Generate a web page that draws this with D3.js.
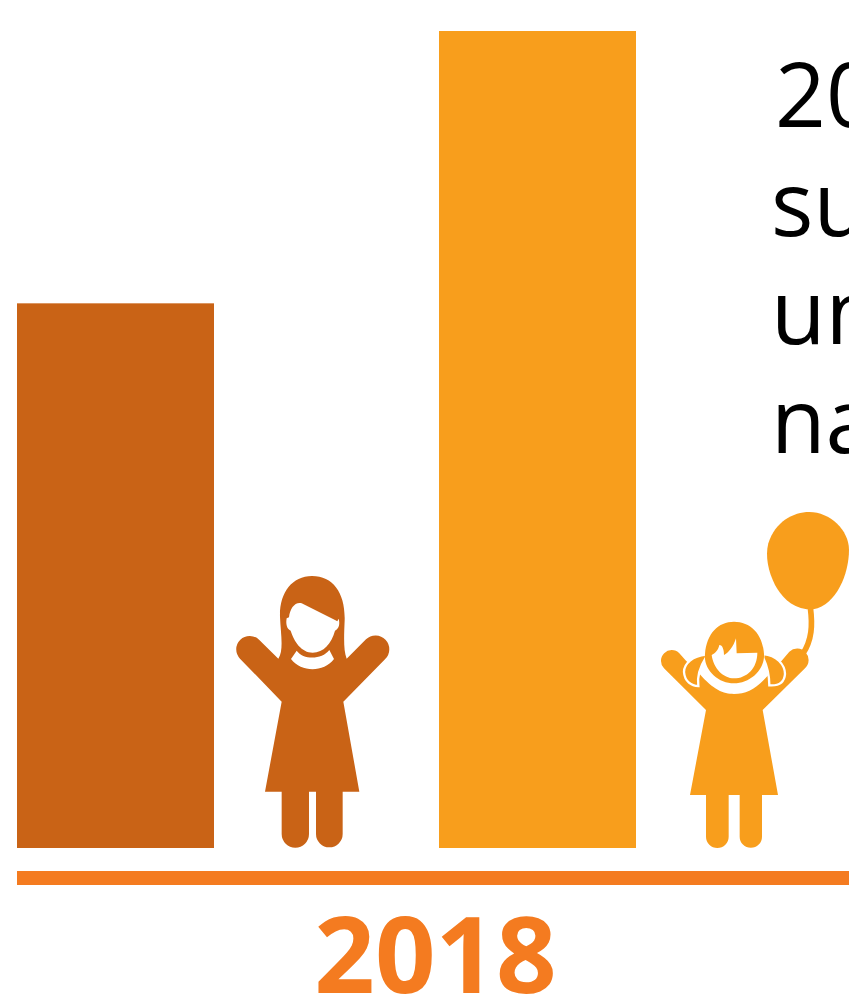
<!DOCTYPE html>
<html>
<head>
<meta charset="utf-8">
<script src="https://cdn.jsdelivr.net/npm/d3@7"></script>
<style>
  html, body { margin: 0; padding: 0; background: #fff; overflow: hidden; }
  svg { display: block; }
  text { font-family: "Open Sans", "Noto Sans", sans-serif; }
</style>
</head>
<body>
<script>
// Two paired bars for one year, each followed by a child pictogram.
const categories = ["Girls, older", "Girls, younger"];
const seriesValues = [20, 30];
const barColors = ["#C96316", "#F89E1C"];
const yearLabel = "2018";
const noteLines = ["20", "su", "un", "na"];

const W = 849, H = 995;
const svg = d3.select("body").append("svg").attr("width", W).attr("height", H);

const x = d3.scaleBand().domain(categories).range([17, 636]).paddingInner(225 / 422);
const y = d3.scaleLinear().domain([0, 30]).range([848, 31]);

svg.selectAll("rect.bar")
  .data(categories)
  .join("rect")
  .attr("class", "bar")
  .attr("x", d => x(d))
  .attr("y", (d, i) => y(seriesValues[i]))
  .attr("width", x.bandwidth())
  .attr("height", (d, i) => y(0) - y(seriesValues[i]))
  .attr("fill", (d, i) => barColors[i]);

// Baseline rule and year label
svg.append("rect").attr("x", 17).attr("y", 871).attr("width", W - 17).attr("height", 14).attr("fill", "#F47B20");
svg.append("text")
  .attr("x", 435.5).attr("y", 992.5)
  .attr("text-anchor", "middle")
  .attr("font-size", 106).attr("font-weight", 700)
  .attr("fill", "#F47B20")
  .text(yearLabel);

// Running note, cut off by the right edge of the page
svg.append("g").selectAll("text")
  .data(noteLines)
  .join("text")
  .attr("x", (d, i) => i === 0 ? 775 : 771)
  .attr("y", (d, i) => 127 + i * 108.7)
  .attr("font-size", 89)
  .attr("fill", "#000")
  .text(d => d);

// Pictograms share a local grid of three units per pixel, origin at the feet centre
const icon = (i, cx, cy) => svg.append("g")
  .attr("transform", `translate(${x(categories[i]) + 295},${y(0)}) scale(${1 / 3}) translate(${-cx},${-cy})`);

const older = icon(0, 276, 864);
older.append("path").attr("fill", barColors[0]).attr("d",
  "M175,296 L118,240 A40,40 0 0 0 60,296 L185,425 L135,695 L185,695 L185,822 A41,41 0 0 0 267,822 " +
  "L267,695 L288,695 L288,822 A40,40 0 0 0 368,822 L368,695 L418,695 L370,425 L495,298 A40,40 0 0 0 438,238 L380,296 " +
  "C370,270 372,230 374,180 C376,100 340,48 276,48 C215,48 178,100 180,170 C182,220 192,270 175,296 Z");
older.append("path").attr("fill", "#fff").attr("d",
  "M245,130 L345,180 L352,184 L356,176 C360,190 358,205 345,212 C335,250 310,278 278,278 " +
  "C245,278 222,245 212,212 C200,208 197,190 200,175 L207,172 C210,145 225,125 245,130 Z");
older.append("path").attr("fill", "#fff").attr("d",
  "M213,297 L230,272 C250,300 305,300 328,270 L342,297 C310,338 245,338 213,297 Z");

const younger = icon(1, 252, 1044);
younger.append("path").attr("fill", barColors[1]).attr("d",
  "M108,482 L88,460 A31,31 0 0 0 42,505 L168,630 L120,885 L168,885 L168,1010 A34,34 0 0 0 236,1010 " +
  "L236,885 L269,885 L269,1010 A33.5,33.5 0 0 0 336,1010 L336,885 L384,885 L338,630 L465,505 A31,31 0 0 0 418,455 L395,482 " +
  "L355,525 C320,565 290,582 252,582 C220,582 190,570 147,520 Z");
// Pigtails sit over the arms with a white keyline
younger.append("path").attr("fill", barColors[1]).attr("stroke", "#fff").attr("stroke-width", 7).attr("d",
  "M168,464 C128,468 102,490 102,516 C104,545 125,558 145,558 C141,530 150,500 168,472 Z");
younger.append("path").attr("fill", barColors[1]).attr("stroke", "#fff").attr("stroke-width", 7).attr("d",
  "M340,462 C380,465 405,495 405,522 C403,548 385,558 358,556 C358,525 352,500 340,474 Z");
younger.append("path").attr("fill", barColors[1]).attr("d",
  "M165,462 C170,400 205,365 252,365 C300,365 338,400 342,462 C345,510 300,550 252,550 C205,550 160,510 165,462 Z");
younger.append("path").attr("fill", "#fff").attr("d",
  "M185,465 C190,505 220,535 252,535 C290,535 322,505 322,458 L260,460 L258,415 C250,440 235,460 222,465 " +
  "C222,450 218,435 208,435 C205,450 195,460 185,465 Z");
// Balloon and its string
younger.append("path").attr("fill", barColors[1]).attr("d",
  "M470,328 C420,320 395,290 375,255 C355,215 345,170 355,130 C375,65 430,36 478,36 " +
  "C540,36 597,90 597,150 C597,220 560,315 490,328 Z");
younger.append("path").attr("fill", "none").attr("stroke", barColors[1]).attr("stroke-width", 17).attr("d",
  "M481,322 C488,375 486,420 458,462");
</script>
</body>
</html>
